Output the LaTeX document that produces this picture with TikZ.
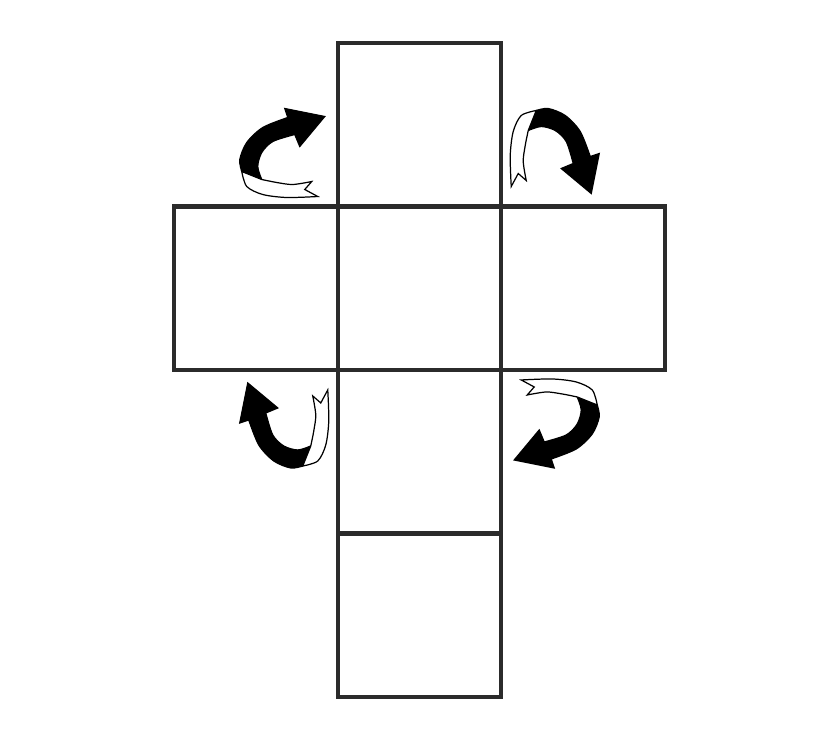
\documentclass[tikz,border=0pt]{standalone}
\usepackage{tikz}
\usetikzlibrary{positioning}
\definecolor{netgray}{HTML}{2B2B2B}
\tikzset{
  face/.style={draw=netgray,line width=2.5pt,minimum size=3.27cm,inner sep=0pt,outer sep=0pt},
  twist/.pic={
    % dark half with the head
    \filldraw[line width=0.7pt] (-50,-89) -- (-53,-98) -- (-13,-90) -- (-38,-60)
      -- plot[smooth] coordinates {(-43,-72) (-65,-65) (-76,-54) (-80,-40) (-76,-27)}
      -- plot[smooth] coordinates {(-96,-35) (-98,-47) (-91,-64) (-75,-79) (-50,-89)} -- cycle;
    % white back of the ribbon
    \filldraw[fill=white,line width=0.7pt]
      plot[smooth] coordinates {(-96,-35) (-91,-20) (-75,-12) (-51,-9) (-20,-10)}
      -- (-33,-17)
      -- plot[smooth] coordinates {(-26,-25) (-45,-22) (-61,-24) (-76,-27)} -- cycle;
  }
}
\begin{document}
\begin{tikzpicture}[x=0.02cm,y=-0.02cm]
  \useasboundingbox[fill=white] (0,0) rectangle (840,742);
  \node[face] (mid) at (419.5,288.25) {};
  \node[face,above=0pt of mid] (top) {};
  \node[face,left=0pt of mid] (left) {};
  \node[face,right=0pt of mid] (right) {};
  \node[face,below=0pt of mid] (low) {};
  \node[face,below=0pt of low] (bottom) {};

  \pic at (mid.north west) {twist};
  \pic[rotate=-90] at (mid.north east) {twist};
  \pic[rotate=90] at (mid.south west) {twist};
  \pic[rotate=180] at (mid.south east) {twist};
\end{tikzpicture}
\end{document}
